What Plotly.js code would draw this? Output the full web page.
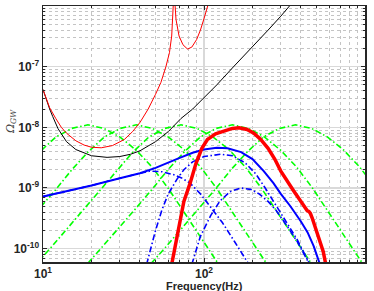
<!DOCTYPE html>
<html>
<head>
<meta charset="utf-8">
<script src="https://cdn.plot.ly/plotly-3.0.1.min.js"></script>
<style>html,body{margin:0;padding:0;background:#fff;}#chart{width:374px;height:291px;}</style>
</head>
<body>
<div id="chart"></div>
<script>
// Black sensitivity curve
const blackF = [10, 10.5, 11, 11.5, 12.4, 14, 16, 20, 25, 30, 35, 40, 50, 60, 72, 85, 98, 120, 150, 200, 250, 300, 345];
const blackO = [4.2e-8, 2.8e-8, 2.0e-8, 1.5e-8, 9.5e-9, 5.8e-9, 4.3e-9, 3.4e-9, 3.2e-9, 3.3e-9, 3.6e-9, 4.1e-9, 5.8e-9, 8.5e-9, 1.4e-8, 2.0e-8, 2.9e-8, 5.0e-8, 9.5e-8, 2.1e-7, 4.0e-7, 6.8e-7, 1.05e-6];
// Thin red sensitivity curve (two branches around the resonance)
const redF1 = [10, 10.5, 11, 12, 13, 14, 16, 18, 20, 23, 27, 32, 36, 40, 45, 50, 54, 58, 61, 63, 64.5];
const redO1 = [4.2e-8, 2.9e-8, 2.1e-8, 1.4e-8, 1.0e-8, 8.0e-9, 6.0e-9, 5.1e-9, 4.7e-9, 4.6e-9, 5.0e-9, 6.3e-9, 8.5e-9, 1.2e-8, 2.0e-8, 3.5e-8, 5.5e-8, 1.0e-7, 1.7e-7, 3.2e-7, 1.1e-6];
const redF2 = [66, 67, 70, 74, 79, 84, 90, 95, 100, 106];
const redO2 = [1.1e-6, 6.0e-7, 3.2e-7, 2.3e-7, 1.95e-7, 2.1e-7, 2.8e-7, 4.0e-7, 6.2e-7, 1.05e-6];
// Green dash-dot spectra
const g1F = [1.9, 3.0, 4.8, 6.0, 7.6, 9.5, 12, 15.1, 19, 23.9, 30.1, 37.9, 47.7, 60.1, 75.6, 95.2, 120, 190];
const g2F = [3.8, 6.0, 9.5, 12, 15.1, 19, 24, 30.2, 38, 47.8, 60.2, 75.8, 95.5, 120, 151, 190, 240, 380];
const g3F = [7.2, 11.4, 18.1, 22.8, 28.7, 36.1, 45.4, 57.2, 72, 90.6, 114, 144, 181, 228, 287, 361, 454, 720];
const g4F = [15, 23.7, 37.7, 47.4, 59.7, 75.2, 94.7, 119, 150, 189, 238, 299, 377, 474, 597, 752, 947, 1500];
const g5F = [37, 58.5, 92.9, 117, 147, 185, 233, 294, 370, 466, 586, 738, 929, 1170, 1473, 1854, 2335, 3700];
const g1O = [2.8e-11, 1.1e-10, 4.6e-10, 9.4e-10, 2.0e-9, 3.9e-9, 6.9e-9, 9.6e-9, 1.1e-8, 9.6e-9, 6.9e-9, 4.2e-9, 2.2e-9, 9.8e-10, 3.9e-10, 1.55e-10, 6.2e-11, 9.8e-12];
const g2O = [2.8e-11, 1.1e-10, 4.6e-10, 9.4e-10, 2.0e-9, 3.9e-9, 6.9e-9, 9.6e-9, 1.1e-8, 9.6e-9, 6.9e-9, 4.2e-9, 2.2e-9, 9.8e-10, 3.9e-10, 1.55e-10, 6.2e-11, 9.8e-12];
const g3O = [2.8e-11, 1.1e-10, 4.6e-10, 9.4e-10, 2.0e-9, 3.9e-9, 6.9e-9, 9.6e-9, 1.1e-8, 9.6e-9, 6.9e-9, 4.2e-9, 2.2e-9, 9.8e-10, 3.9e-10, 1.55e-10, 6.2e-11, 9.8e-12];
const g4O = [2.8e-11, 1.1e-10, 4.6e-10, 9.4e-10, 2.0e-9, 3.9e-9, 6.9e-9, 9.6e-9, 1.1e-8, 9.6e-9, 6.9e-9, 4.2e-9, 2.2e-9, 9.8e-10, 3.9e-10, 1.55e-10, 6.2e-11, 9.8e-12];
const g5O = [2.8e-11, 1.1e-10, 4.6e-10, 9.4e-10, 2.0e-9, 3.9e-9, 6.9e-9, 9.6e-9, 1.1e-8, 9.6e-9, 6.9e-9, 4.2e-9, 2.2e-9, 9.8e-10, 3.9e-10, 1.55e-10, 6.2e-11, 9.8e-12];
// Blue solid total
const blueF = [10, 15, 20, 30, 40, 50, 60, 70, 85, 100, 120, 140, 170, 200, 235, 270, 300, 344, 400, 440, 480, 525];
const blueO = [7.2e-10, 9.2e-10, 1.1e-9, 1.45e-9, 1.75e-9, 2.15e-9, 2.65e-9, 3.1e-9, 3.8e-9, 4.3e-9, 4.6e-9, 4.5e-9, 3.9e-9, 3.0e-9, 1.9e-9, 1.2e-9, 8.0e-10, 5.0e-10, 2.8e-10, 1.85e-10, 1.1e-10, 5.5e-11];
// Blue dash-dot components
const b1F = [10, 15, 20, 30, 40, 46, 55, 65, 72, 82, 95, 110, 130, 155, 190];
const b1O = [7.2e-10, 9.2e-10, 1.1e-9, 1.45e-9, 1.75e-9, 1.9e-9, 1.85e-9, 1.65e-9, 1.48e-9, 1.2e-9, 8.0e-10, 4.8e-10, 2.7e-10, 1.3e-10, 5.5e-11];
const b2F = [44, 50, 55, 60, 68, 75, 85, 100, 127, 150, 180, 210, 240, 272, 320, 380, 455];
const b2O = [5.5e-11, 2.0e-10, 4.5e-10, 8.0e-10, 1.4e-9, 2.0e-9, 2.7e-9, 3.3e-9, 3.6e-9, 3.4e-9, 2.6e-9, 1.7e-9, 1.0e-9, 5.8e-10, 3.0e-10, 1.4e-10, 5.5e-11];
const b3F = [84, 95, 110, 125, 145, 169, 195, 220, 250, 280, 320, 380, 445];
const b3O = [5.5e-11, 1.6e-10, 3.5e-10, 6.0e-10, 8.7e-10, 1.0e-9, 9.5e-10, 8.0e-10, 6.0e-10, 4.3e-10, 2.6e-10, 1.3e-10, 6.0e-11];
// Thick red signal
const sigF = [63, 66, 70, 75, 82, 89, 97, 105, 118, 133, 150, 165, 185, 204, 225, 250, 275, 300, 325, 360, 400, 438, 448, 458, 470, 500, 530, 550, 575];
const sigO = [5.5e-11, 1.0e-10, 2.2e-10, 6.0e-10, 1.2e-9, 2.5e-9, 4.5e-9, 6.3e-9, 7.8e-9, 8.8e-9, 9.6e-9, 9.8e-9, 9.2e-9, 8.0e-9, 6.3e-9, 4.5e-9, 3.0e-9, 1.9e-9, 1.35e-9, 9.0e-10, 6.0e-10, 4.2e-10, 4.1e-10, 3.8e-10, 3.2e-10, 2.0e-10, 1.3e-10, 9.0e-11, 5.0e-11];

const yTickVals = [1e-10, 1e-9, 1e-8, 1e-7, 1e-6];
const yTickText = ['10<sup>-10</sup>', '10<sup>-9</sup>', '10<sup>-8</sup>', '10<sup>-7</sup>', '10<sup>-6</sup>'];
const xTickVals = [10, 100, 1000];
const xTickText = ['10<sup>1</sup>', '10<sup>2</sup>', '10<sup>3</sup>'];

const GREEN = '#00ff00', BLUE = '#0000ff', RED = '#ff0000';
const dd = '6px,2.5px,1.5px,2.5px';
function tr(x, y, color, width, dash) {
  return {x: x, y: y, type: 'scatter', mode: 'lines', line: {color: color, width: width, dash: dash || 'solid'}, hoverinfo: 'skip', showlegend: false};
}
const data = [
  tr(g1F, g1O, GREEN, 1.6, dd), tr(g2F, g2O, GREEN, 1.6, dd), tr(g3F, g3O, GREEN, 1.6, dd),
  tr(g4F, g4O, GREEN, 1.6, dd), tr(g5F, g5O, GREEN, 1.6, dd),
  tr(blackF, blackO, '#000000', 1),
  tr(redF1, redO1, RED, 1), tr(redF2, redO2, RED, 1),
  tr(b1F, b1O, BLUE, 1.6, dd), tr(b2F, b2O, BLUE, 1.6, dd), tr(b3F, b3O, BLUE, 1.6, dd),
  tr(blueF, blueO, BLUE, 2),
  tr(sigF, sigO, RED, 3.5)
];
const tickFont = {family: 'Liberation Sans, Arial, sans-serif', size: 12, color: '#262626', weight: 'bold'};
const axisCommon = {
  type: 'log', showline: true, linecolor: '#262626', linewidth: 1.5, mirror: 'allticks',
  ticks: 'inside', ticklen: 4, tickcolor: '#262626', tickwidth: 1,
  showgrid: true, gridcolor: '#d9d9d9', gridwidth: 1.2, zeroline: false,
  tickfont: tickFont, tickmode: 'array',
  minor: {dtick: 'D1', ticks: 'inside', ticklen: 2, tickcolor: '#262626', showgrid: true, gridcolor: '#c4c4c4', griddash: 'dot', gridwidth: 1}
};
const layout = {
  width: 374, height: 291,
  margin: {l: 43, r: 9, t: 6, b: 29},
  paper_bgcolor: '#ffffff', plot_bgcolor: '#ffffff',
  xaxis: Object.assign({}, axisCommon, {range: [1, 3], tickvals: xTickVals, ticktext: xTickText}),
  yaxis: Object.assign({}, axisCommon, {range: [-10.22, -6], tickvals: yTickVals, ticktext: yTickText}),
  annotations: [
    {text: '<b>Frequency(Hz)</b>', xref: 'paper', yref: 'paper', x: 0.5, y: -0.094, xanchor: 'center', yanchor: 'middle',
     showarrow: false, font: {family: 'Liberation Sans, Arial, sans-serif', size: 11, color: '#262626'}},
    {text: '<i>Ω<sub>GW</sub></i>', xref: 'paper', yref: 'paper', x: -0.1, y: 0.55, xanchor: 'center', yanchor: 'middle',
     textangle: -90, showarrow: false, font: {family: 'DejaVu Serif, serif', size: 11, color: '#404040'}}
  ]
};
Plotly.newPlot('chart', data, layout, {displayModeBar: false, staticPlot: true});
</script>
</body>
</html>
